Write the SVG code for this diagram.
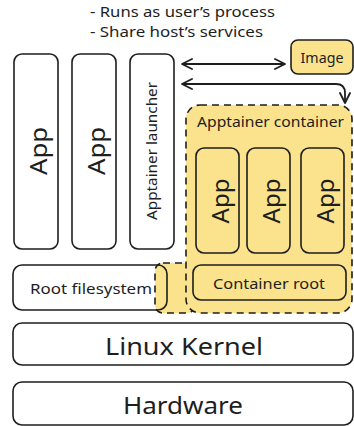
<svg xmlns="http://www.w3.org/2000/svg" width="354" height="426" viewBox="0 0 354 426">
<style>
  text { font-family: "Noto Sans", "DejaVu Sans", sans-serif; fill: #1e1e1e; }
  .box { fill: none; stroke: #1e1e1e; stroke-width: 1.6; }
  .ybox { fill: #fae38c; stroke: #1e1e1e; stroke-width: 1.6; }
  .dash { fill: #fae38c; stroke: #1e1e1e; stroke-width: 1.6; stroke-dasharray: 7 5; }
  .conn { fill: none; stroke: #1e1e1e; stroke-width: 1.8; }
</style>
<defs>
  <marker id="arr" viewBox="0 0 12 12" refX="11" refY="6" markerWidth="12" markerHeight="12" markerUnits="userSpaceOnUse" orient="auto-start-reverse">
    <path d="M1 1 L11 6 L1 11" fill="none" stroke="#1e1e1e" stroke-width="1.8" stroke-linecap="round" stroke-linejoin="round"/>
  </marker>
</defs>
<rect width="354" height="426" fill="#ffffff"/>

<g id="note">
  <text x="90" y="17" font-size="14" textLength="185" lengthAdjust="spacingAndGlyphs">- Runs as user’s process</text>
  <text x="90" y="37" font-size="14" textLength="173" lengthAdjust="spacingAndGlyphs">- Share host’s services</text>
</g>

<g id="container">
  <rect class="dash" x="155" y="263" width="40" height="50" rx="8"/>
  <rect class="dash" x="186" y="105" width="166" height="208" rx="14"/>
  <text x="197" y="127" font-size="14" textLength="147" lengthAdjust="spacingAndGlyphs">Apptainer container</text>
</g>

<g id="app1">
  <rect class="box" x="14" y="54" width="44" height="195" rx="8"/>
  <text transform="translate(37,151) rotate(-90)" text-anchor="middle" dominant-baseline="central" font-size="24" textLength="48" lengthAdjust="spacingAndGlyphs">App</text>
</g>
<g id="app2">
  <rect class="box" x="72" y="54" width="44" height="195" rx="8"/>
  <text transform="translate(95,151) rotate(-90)" text-anchor="middle" dominant-baseline="central" font-size="24" textLength="48" lengthAdjust="spacingAndGlyphs">App</text>
</g>
<g id="launcher">
  <rect class="box" x="130" y="54" width="44" height="195" rx="8"/>
  <text transform="translate(151,151) rotate(-90)" text-anchor="middle" dominant-baseline="central" font-size="14" textLength="138" lengthAdjust="spacingAndGlyphs">Apptainer launcher</text>
</g>

<g id="image">
  <rect class="ybox" x="291" y="40" width="62" height="34" rx="7"/>
  <text x="322" y="57" text-anchor="middle" dominant-baseline="central" font-size="14" textLength="43" lengthAdjust="spacingAndGlyphs">Image</text>
</g>

<g id="capp1">
  <rect class="box" x="196" y="148" width="43" height="105" rx="8"/>
  <text transform="translate(219,201) rotate(-90)" text-anchor="middle" dominant-baseline="central" font-size="24" textLength="45" lengthAdjust="spacingAndGlyphs">App</text>
</g>
<g id="capp2">
  <rect class="box" x="247" y="148" width="43" height="105" rx="8"/>
  <text transform="translate(270,201) rotate(-90)" text-anchor="middle" dominant-baseline="central" font-size="24" textLength="45" lengthAdjust="spacingAndGlyphs">App</text>
</g>
<g id="capp3">
  <rect class="box" x="301" y="148" width="43" height="105" rx="8"/>
  <text transform="translate(324,201) rotate(-90)" text-anchor="middle" dominant-baseline="central" font-size="24" textLength="45" lengthAdjust="spacingAndGlyphs">App</text>
</g>

<g id="container-root">
  <rect class="box" x="193" y="265" width="153" height="35" rx="8"/>
  <text x="269" y="283" text-anchor="middle" dominant-baseline="central" font-size="14" textLength="112" lengthAdjust="spacingAndGlyphs">Container root</text>
</g>

<g id="root-fs">
  <rect class="box" x="13" y="265" width="154" height="45" rx="9"/>
  <text x="30" y="288" dominant-baseline="central" font-size="14" textLength="122" lengthAdjust="spacingAndGlyphs">Root filesystem</text>
</g>

<g id="kernel">
  <rect class="box" x="13" y="323" width="340" height="42" rx="9"/>
  <text x="184" y="345" text-anchor="middle" dominant-baseline="central" font-size="24" textLength="158" lengthAdjust="spacingAndGlyphs">Linux Kernel</text>
</g>

<g id="hardware">
  <rect class="box" x="13" y="382" width="340" height="43" rx="9"/>
  <text x="183" y="404" text-anchor="middle" dominant-baseline="central" font-size="24" textLength="120" lengthAdjust="spacingAndGlyphs">Hardware</text>
</g>

<g id="connectors">
  <path class="conn" d="M182 64 L285 64" marker-start="url(#arr)" marker-end="url(#arr)"/>
  <path class="conn" d="M182 84 L336 84 Q345 84 345 93 L345 103" marker-start="url(#arr)" marker-end="url(#arr)"/>
</g>
</svg>
